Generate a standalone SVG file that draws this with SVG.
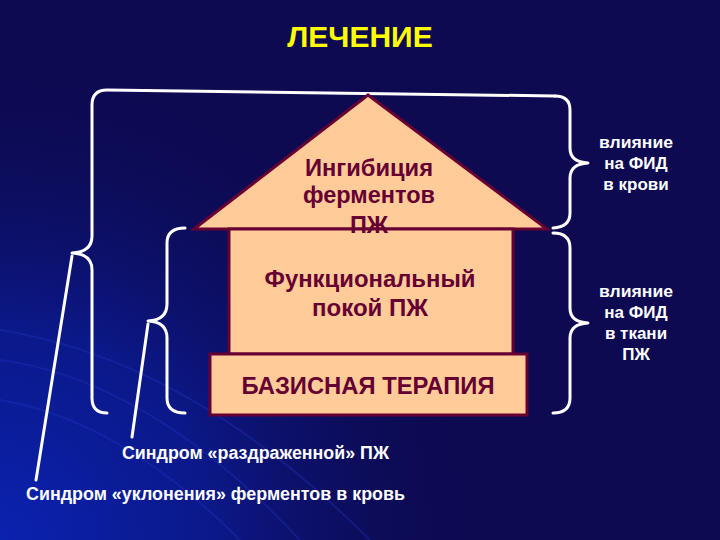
<svg xmlns="http://www.w3.org/2000/svg" width="720" height="540" viewBox="0 0 720 540">
  <defs>
    <radialGradient id="bg" cx="0" cy="540" r="480" gradientUnits="userSpaceOnUse">
      <stop offset="0" stop-color="#0a22b0"/>
      <stop offset="0.45" stop-color="#0b1888"/>
      <stop offset="1" stop-color="#0d0a52" stop-opacity="0"/>
    </radialGradient>
    <style>
      .brace { fill: none; stroke: #ffffff; stroke-width: 3; stroke-linecap: round; stroke-linejoin: round; }
      .lead { stroke: #ffffff; stroke-width: 3; stroke-linecap: round; }
      .shape { fill: #ffcc99; stroke: #660033; stroke-width: 3; stroke-linejoin: miter; }
      .in { font-family: "Liberation Sans", Arial, sans-serif; font-weight: bold; fill: #660033; text-anchor: middle; }
      .lbl { font-family: "Liberation Sans", Arial, sans-serif; font-weight: bold; fill: #ffffff; }
      .arc { fill: none; stroke: #2233c0; stroke-opacity: 0.35; stroke-width: 2; }
    </style>
  </defs>
  <rect width="720" height="540" fill="#0d0a52"/>
  <rect width="720" height="540" fill="url(#bg)"/>
  <g id="swoosh">
    <path class="arc" d="M0 360 Q150 380 300 540"/>
    <path class="arc" d="M0 330 Q190 360 370 540"/>
    <path class="arc" d="M0 400 Q120 420 240 540"/>
  </g>

  <text id="title" x="360" y="47" font-family="Liberation Sans, Arial, sans-serif" font-weight="bold" font-size="30" fill="#ffff00" text-anchor="middle">ЛЕЧЕНИЕ</text>

  <g id="connectors">
    <path class="brace" d="M107 413 Q92 413 92 398 L92 270 Q92 254 72 253 Q92 252 92 236 L92 105 Q92 90 107 90 L555 96"/>
    <path class="brace" d="M185 413 Q167 413 167 398 L167 338 Q167 322 148 321 Q167 320 167 304 L167 243 Q167 228 185 228"/>
    <path class="brace" d="M555 96 Q570 96 570 110 L570 148 Q570 162 588 163 Q570 164 570 178 L570 213 Q570 227 553 228"/>
    <path class="brace" d="M553 233 Q570 233 570 248 L570 308 Q570 322 588 323 Q570 324 570 338 L570 398 Q570 413 553 413"/>
    <line class="lead" x1="72" y1="256" x2="36" y2="480"/>
    <line class="lead" x1="148" y1="324" x2="132" y2="437"/>
  </g>

  <g id="roof">
    <polygon class="shape" points="368,95 194,229 547,229"/>
    <text class="in" x="369" y="176" font-size="23.5" textLength="128" lengthAdjust="spacingAndGlyphs">Ингибиция</text>
    <text class="in" x="369" y="203" font-size="23.5" textLength="132" lengthAdjust="spacingAndGlyphs">ферментов</text>
  </g>
  <g id="body">
    <rect class="shape" x="229" y="229" width="284" height="125"/>
    <text class="in" x="369" y="233" font-size="23.5">ПЖ</text>
    <text class="in" x="370" y="287" font-size="23.5" textLength="211" lengthAdjust="spacingAndGlyphs">Функциональный</text>
    <text class="in" x="370" y="316" font-size="23.5" textLength="116" lengthAdjust="spacingAndGlyphs">покой ПЖ</text>
  </g>
  <g id="base">
    <rect class="shape" x="210" y="354" width="317" height="61"/>
    <text class="in" x="368" y="394" font-size="23.5" textLength="253" lengthAdjust="spacingAndGlyphs">БАЗИСНАЯ ТЕРАПИЯ</text>
  </g>

  <g id="label-blood">
    <text class="lbl" x="636" y="148" font-size="17" text-anchor="middle" textLength="74" lengthAdjust="spacingAndGlyphs">влияние</text>
    <text class="lbl" x="636" y="169" font-size="17" text-anchor="middle">на ФИД</text>
    <text class="lbl" x="636" y="190" font-size="17" text-anchor="middle">в крови</text>
  </g>
  <g id="label-tissue">
    <text class="lbl" x="636" y="297" font-size="17" text-anchor="middle" textLength="74" lengthAdjust="spacingAndGlyphs">влияние</text>
    <text class="lbl" x="636" y="318" font-size="17" text-anchor="middle">на ФИД</text>
    <text class="lbl" x="636" y="339" font-size="17" text-anchor="middle">в ткани</text>
    <text class="lbl" x="636" y="360" font-size="17" text-anchor="middle">ПЖ</text>
  </g>
  <g id="label-irritated">
    <text class="lbl" x="122" y="459" font-size="17.5" textLength="267" lengthAdjust="spacingAndGlyphs">Синдром «раздраженной» ПЖ</text>
  </g>
  <g id="label-evasion">
    <text class="lbl" x="26" y="500" font-size="17.5" textLength="379" lengthAdjust="spacingAndGlyphs">Синдром «уклонения» ферментов в кровь</text>
  </g>
</svg>
